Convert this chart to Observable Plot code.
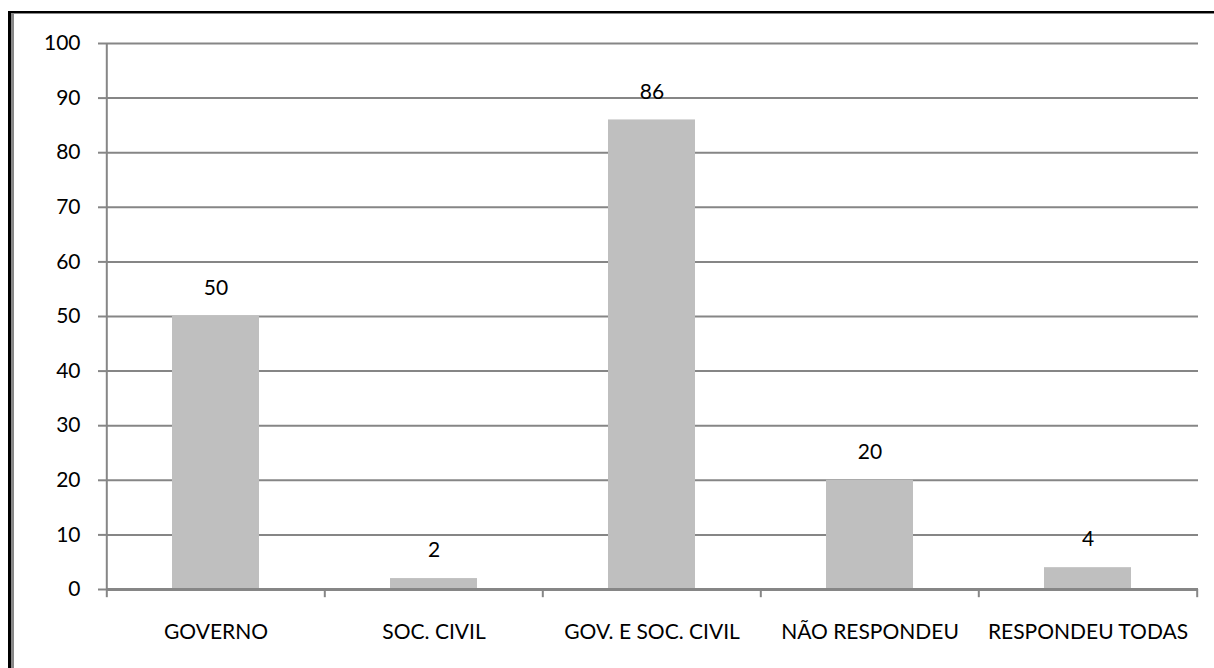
<!DOCTYPE html>
<html>
<head>
<meta charset="utf-8">
<script src="https://cdn.jsdelivr.net/npm/d3@7"></script>
<script src="https://cdn.jsdelivr.net/npm/@observablehq/plot@0.6"></script>
<style>
  html, body { margin: 0; padding: 0; background: #fff; }
  #wrap { position: relative; width: 1214px; height: 668px; overflow: hidden; }
  #wrap svg { position: absolute; left: 0; top: 0; }
  .frameA { position: absolute; left: 8px; top: 11px; right: -10px; bottom: -10px;
            border-top: 2px solid #000; border-left: 3px solid #000; pointer-events: none; }
  .frameB { position: absolute; left: 11px; top: 13px; right: -10px; bottom: -10px;
            border-top: 1px solid #888; border-left: 3px solid #888; pointer-events: none; }
</style>
</head>
<body>
<div id="wrap"></div>
<script>
const categories = ["GOVERNO", "SOC. CIVIL", "GOV. E SOC. CIVIL", "NÃO RESPONDEU", "RESPONDEU TODAS"];
const values = [50, 2, 86, 20, 4];
const yTicks = [0, 10, 20, 30, 40, 50, 60, 70, 80, 90, 100];

const data = categories.map((c, i) => ({category: c, value: values[i]}));

const W = 1214, H = 668;
const mL = 106, mR = 16, mT = 43, mB = 79;
const step = (W - mL - mR) / categories.length;
const font = "Lato, 'Open Sans', sans-serif";

const chart = Plot.plot({
  width: W,
  height: H,
  marginLeft: mL,
  marginRight: mR,
  marginTop: mT,
  marginBottom: mB,
  style: {fontFamily: font, fontSize: "21px", color: "#000", background: "transparent"},
  x: {domain: categories, paddingInner: 0.6, paddingOuter: 0.3, label: null},
  y: {domain: [0, 100], label: null},
  marks: [
    Plot.ruleY(yTicks.filter(d => d > 0), {y: d => d, stroke: "#868686", strokeWidth: 2, strokeOpacity: 1}),
    Plot.barY(data, {x: "category", y: "value", fill: "#bfbfbf"}),
    Plot.ruleY([0], {stroke: "#868686", strokeWidth: 3, strokeOpacity: 1}),
    Plot.ruleX(categories, {x: d => d, dx: -step / 2, y1: -1.5, y2: 0, stroke: "#868686", strokeWidth: 2, strokeOpacity: 1, clip: false}),
    Plot.ruleX([categories[categories.length - 1]], {x: d => d, dx: step / 2, y1: -1.5, y2: 0, stroke: "#868686", strokeWidth: 2, strokeOpacity: 1}),
    Plot.ruleX([categories[0]], {x: d => d, dx: -step / 2, y1: 0, y2: 100, stroke: "#868686", strokeWidth: 2, strokeOpacity: 1}),
    Plot.axisY({ticks: yTicks, tickSize: 8, tickPadding: 18, stroke: "#868686", strokeWidth: 2, strokeOpacity: 1, fill: "#000", fontSize: 21, label: null}),
    Plot.axisX({tickSize: 0, tickPadding: 35, fill: "#000", fontSize: 21, label: null}),
    Plot.text(data, {x: "category", y: "value", text: d => String(d.value), dy: -28, fill: "#000", fontSize: 21})
  ]
});

const wrap = document.getElementById("wrap");
wrap.appendChild(chart);
const a = document.createElement("div"); a.className = "frameA"; wrap.appendChild(a);
const b = document.createElement("div"); b.className = "frameB"; wrap.appendChild(b);
</script>
</body>
</html>
